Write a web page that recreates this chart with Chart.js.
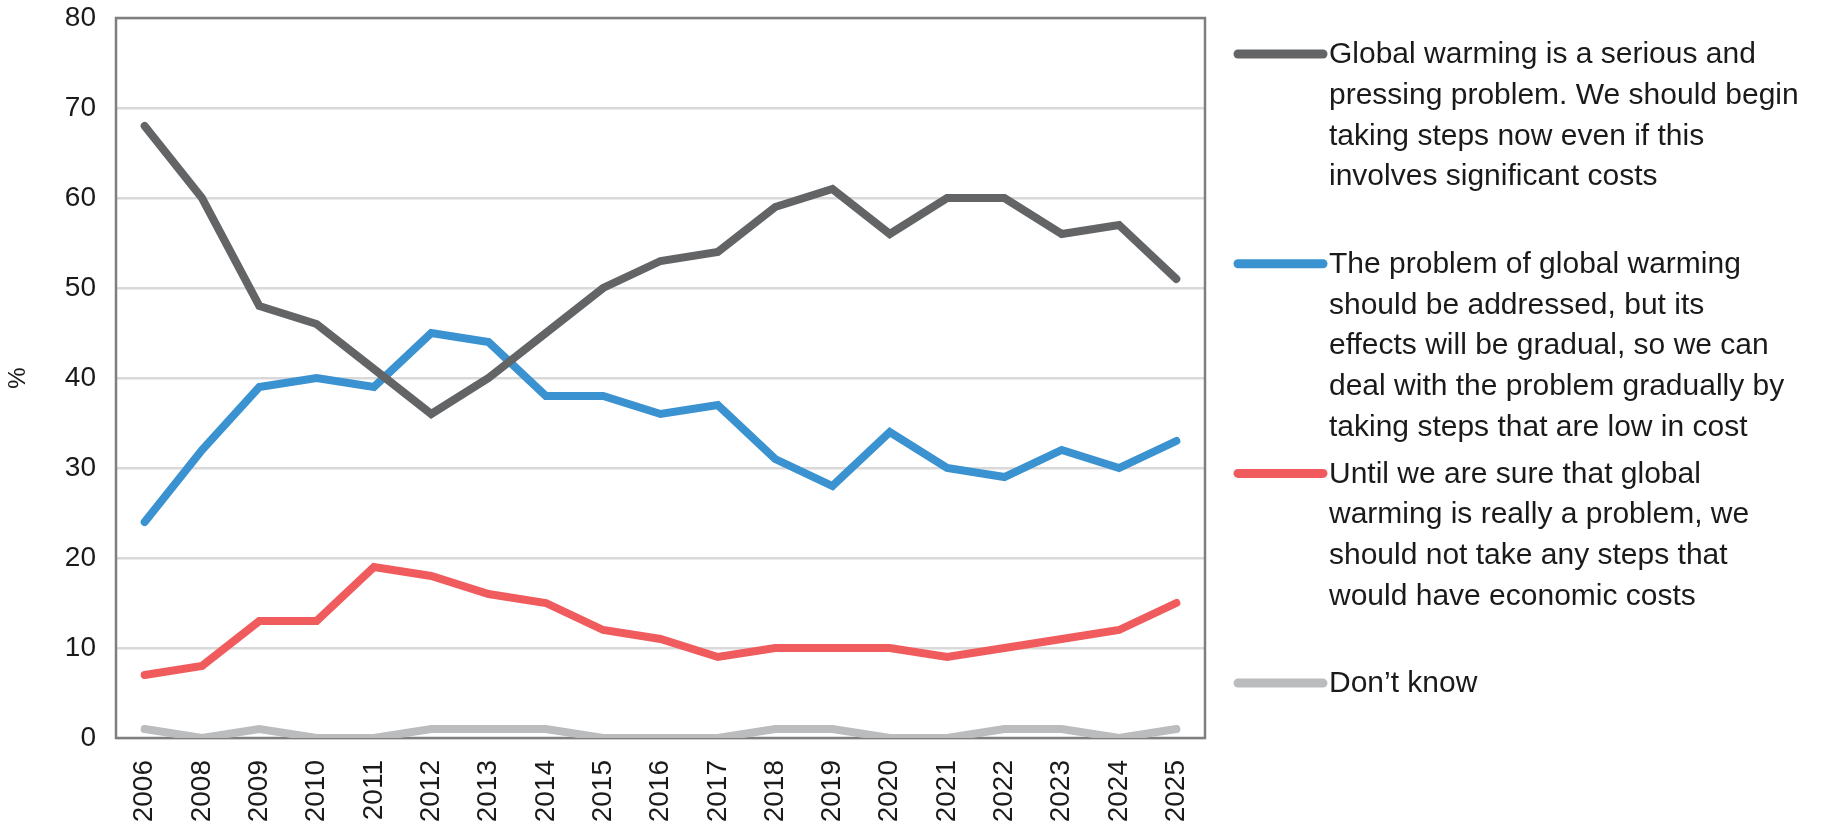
<!DOCTYPE html>
<html lang="en">
  <head>
    <meta charset="UTF-8" />
    <title>Global warming opinion</title>
    <script src="https://cdn.jsdelivr.net/npm/chart.js"></script>
    <style>
      body { margin: 0; background: #fff; }
      #wrap { width: 1833px; height: 831px; position: relative; }
    </style>
  </head>
  <body>
    <div id="wrap"><canvas id="myChart"></canvas></div>

    <script>
      const years = ["2006", "2008", "2009", "2010", "2011", "2012", "2013", "2014", "2015", "2016",
                     "2017", "2018", "2019", "2020", "2021", "2022", "2023", "2024", "2025"];
      const seriousNow = [68, 60, 48, 46, 41, 36, 40, 45, 50, 53, 54, 59, 61, 56, 60, 60, 56, 57, 51];
      const gradual = [24, 32, 39, 40, 39, 45, 44, 38, 38, 36, 37, 31, 28, 34, 30, 29, 32, 30, 33];
      const waitUntilSure = [7, 8, 13, 13, 19, 18, 16, 15, 12, 11, 9, 10, 10, 10, 9, 10, 11, 12, 15];
      const dontKnow = [1, 0, 1, 0, 0, 1, 1, 1, 0, 0, 0, 1, 1, 0, 0, 1, 1, 0, 1];

      // legend text, already broken into lines like the original
      const legendLines = [
        ["Global warming is a serious and", "pressing problem. We should begin", "taking steps now even if this", "involves significant costs"],
        ["The problem of global warming", "should be addressed, but its", "effects will be gradual, so we can", "deal with the problem gradually by", "taking steps that are low in cost"],
        ["Until we are sure that global", "warming is really a problem, we", "should not take any steps that", "would have economic costs"],
        ["Don\u2019t know"],
      ];
      const colors = ["#636466", "#3a92d0", "#f05c5d", "#bbbcbe"];
      const tickFont = { family: '"Liberation Sans", Arial, sans-serif', size: 28 };

      // box around the plot area, drawn under the lines
      const plotBox = {
        id: "plotBox",
        beforeDatasetsDraw(chart) {
          const { ctx, chartArea: a } = chart;
          ctx.save();
          ctx.strokeStyle = "#7f7f7f";
          ctx.lineWidth = 2.5;
          ctx.strokeRect(a.left, a.top, a.right - a.left, a.bottom - a.top);
          ctx.restore();
        },
      };

      // wrapped legend on the right
      const sideLegend = {
        id: "sideLegend",
        afterDraw(chart) {
          const { ctx } = chart;
          const x0 = 1238, x1 = 1323, tx = 1329;
          ctx.save();
          ctx.font = '30px "Liberation Sans Narrow", "Arial Narrow", sans-serif';
          ctx.textBaseline = "middle";
          ctx.fillStyle = "#1a1a1a";
          chart.data.datasets.forEach((ds, i) => {
            const y = 54 + i * 209.7;
            ctx.strokeStyle = ds.borderColor;
            ctx.lineWidth = 9;
            ctx.lineCap = "round";
            ctx.beginPath();
            ctx.moveTo(x0, y);
            ctx.lineTo(x1, y);
            ctx.stroke();
            legendLines[i].forEach((t, j) => ctx.fillText(t, tx, y + 1 + j * 40.7));
          });
          ctx.restore();
        },
      };

      const mk = (label, data, i) => ({
        label: label,
        data: data,
        borderColor: colors[i],
        backgroundColor: colors[i],
        borderWidth: 8,
        borderCapStyle: "round",
        borderJoinStyle: "miter",
        pointRadius: 0,
        tension: 0,
        fill: false,
      });

      new Chart(document.getElementById("myChart"), {
        type: "line",
        data: {
          labels: years,
          datasets: [
            mk(legendLines[0].join(" "), seriousNow, 0),
            mk(legendLines[1].join(" "), gradual, 1),
            mk(legendLines[2].join(" "), waitUntilSure, 2),
            mk(legendLines[3].join(" "), dontKnow, 3),
          ],
        },
        options: {
          responsive: true,
          maintainAspectRatio: false,
          animation: false,
          layout: { padding: { top: 18, right: 628, left: 0, bottom: 0 } },
          plugins: { legend: { display: false }, tooltip: { enabled: false } },
          scales: {
            x: {
              offset: true,
              grid: { display: false, drawTicks: false },
              border: { display: false },
              ticks: {
                minRotation: 90,
                maxRotation: 90,
                padding: 22,
                color: "#1a1a1a",
                font: tickFont,
              },
              afterFit(scale) { scale.height = 93; },
            },
            y: {
              min: 0,
              max: 80,
              grid: { color: "#d9d9d9", lineWidth: 2.5, drawTicks: false },
              border: { display: false },
              ticks: {
                stepSize: 10,
                padding: 20,
                color: "#1a1a1a",
                font: tickFont,
              },
              title: {
                display: true,
                text: "%",
                color: "#1a1a1a",
                padding: { top: 4, bottom: 0 },
                font: { family: '"Liberation Sans", Arial, sans-serif', size: 24 },
              },
              afterFit(scale) {
                scale.width = 116;
                scale.paddingTop = 0;
                scale.paddingBottom = 0;
              },
            },
          },
        },
        plugins: [plotBox, sideLegend],
      });
    </script>
  </body>
</html>
